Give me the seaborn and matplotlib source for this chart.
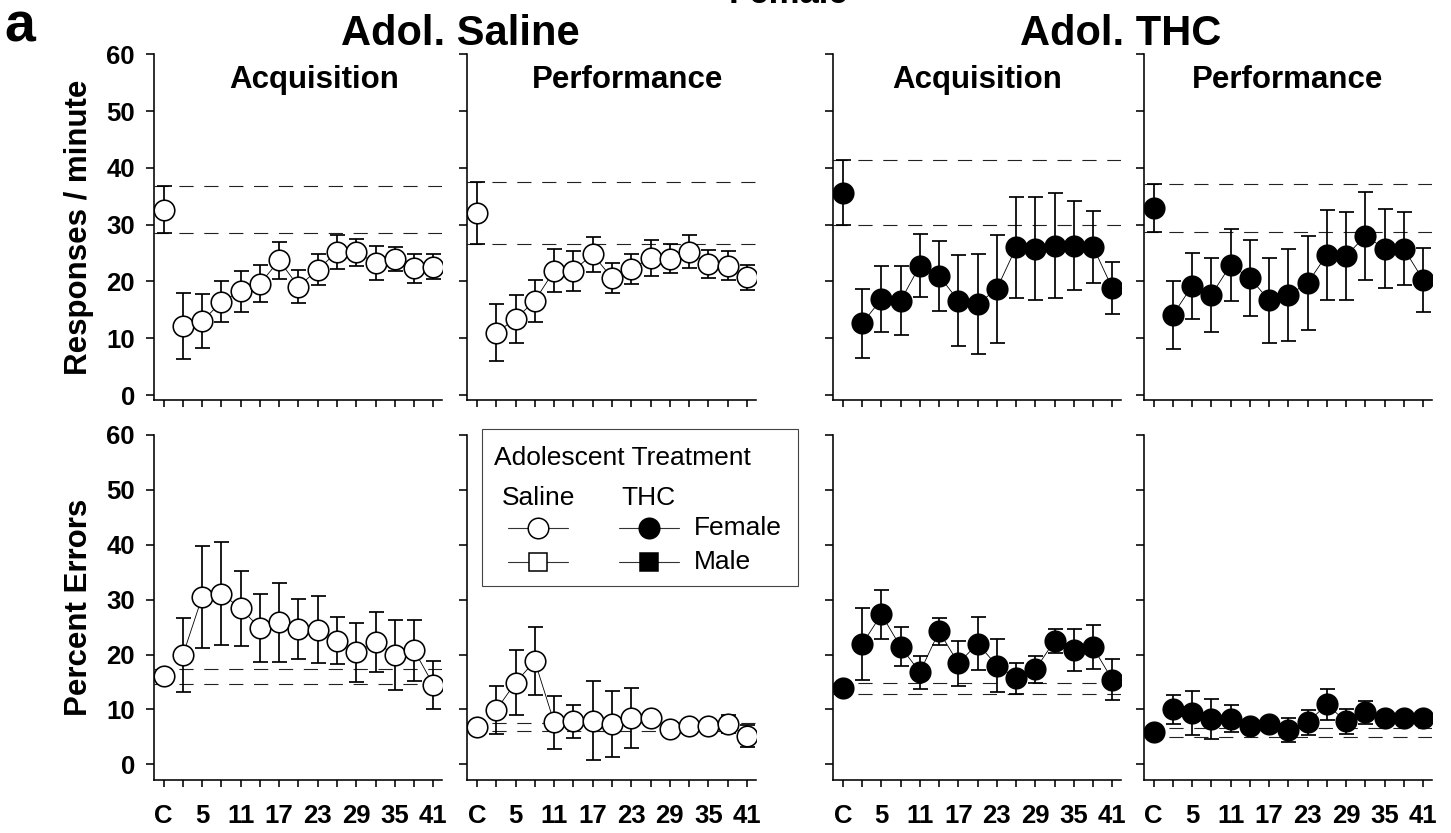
import matplotlib
matplotlib.use("Agg")
import matplotlib.pyplot as plt
import seaborn as sns
import pandas as pd
from matplotlib.lines import Line2D
from matplotlib.patches import Rectangle

# ---------------- data ----------------
x_labels = ["C", "2", "5", "8", "11", "14", "17", "20", "23", "26", "29", "32", "35", "38", "41"]
shown_labels = ["C", "5", "11", "17", "23", "29", "35", "41"]

# Responses / minute (Female)
sal_acq_rate = [32.65, 12.2, 13.0, 16.4, 18.3, 19.6, 23.7, 19.1, 22.1, 25.2, 25.1, 23.3, 23.9, 22.3, 22.6]
sal_acq_rate_err = [4.15, 5.8, 4.7, 3.6, 3.6, 3.3, 3.3, 2.9, 2.8, 3.0, 2.3, 3.0, 2.1, 2.6, 2.2]
sal_perf_rate = [32.05, 11.0, 13.4, 16.6, 21.9, 21.9, 24.8, 20.6, 22.2, 24.1, 24.0, 25.2, 23.1, 22.8, 20.7]
sal_perf_rate_err = [5.45, 5.0, 4.2, 3.7, 3.8, 3.5, 3.1, 2.7, 2.7, 3.2, 2.6, 2.9, 2.5, 2.5, 2.2]
thc_acq_rate = [35.6, 12.6, 16.9, 16.6, 22.8, 21.0, 16.6, 16.0, 18.7, 26.0, 25.8, 26.3, 26.3, 26.1, 18.8]
thc_acq_rate_err = [5.7, 6.0, 5.8, 6.1, 5.6, 6.2, 8.0, 8.8, 9.5, 8.9, 9.0, 9.3, 7.8, 6.3, 4.6]
thc_perf_rate = [32.95, 14.1, 19.2, 17.6, 22.9, 20.6, 16.7, 17.6, 19.7, 24.7, 24.5, 28.0, 25.8, 25.8, 20.3]
thc_perf_rate_err = [4.25, 6.0, 5.8, 6.5, 6.4, 6.75, 7.5, 8.1, 8.3, 7.9, 7.7, 7.8, 6.9, 6.5, 5.6]

# Percent errors (Female)
sal_acq_err_pct = [16.0, 19.9, 30.5, 31.1, 28.4, 24.8, 25.9, 24.6, 24.5, 22.5, 20.4, 22.3, 19.9, 20.8, 14.5]
sal_acq_err_pct_sem = [1.35, 6.7, 9.3, 9.35, 6.8, 6.2, 7.2, 5.5, 6.1, 4.3, 5.4, 5.5, 6.4, 5.55, 4.35]
sal_perf_err_pct = [6.85, 9.9, 14.9, 18.8, 7.65, 7.8, 7.95, 7.35, 8.4, 8.5, 6.4, 7.0, 7.0, 7.35, 5.2]
sal_perf_err_pct_sem = [0.75, 4.3, 5.9, 6.2, 4.8, 3.0, 7.2, 6.0, 5.5, 0.6, 0.5, 0.5, 0.5, 1.6, 2.0]
thc_acq_err_pct = [13.9, 21.9, 27.3, 21.4, 16.8, 24.2, 18.4, 22.0, 18.0, 15.7, 17.3, 22.5, 20.8, 21.3, 15.4]
thc_acq_err_pct_sem = [1.0, 6.6, 4.5, 3.55, 3.0, 2.4, 4.1, 4.8, 4.75, 2.8, 2.45, 2.2, 3.85, 4.0, 3.7]
thc_perf_err_pct = [5.8, 10.0, 9.3, 8.3, 8.3, 7.0, 7.3, 6.25, 7.65, 10.9, 7.8, 9.5, 8.5, 8.4, 8.4]
thc_perf_err_pct_sem = [0.8, 2.7, 4.0, 3.6, 2.5, 0.6, 1.0, 2.1, 2.3, 2.75, 2.3, 2.1, 0.7, 0.7, 0.7]

col_titles = ["Acquisition", "Performance", "Acquisition", "Performance"]
group_titles = ["Adol. Saline", "Adol. THC"]
row_labels = ["Responses / minute", "Percent Errors"]
y_ticks = [0, 10, 20, 30, 40, 50, 60]

# ---------------- style ----------------
sns.set_theme(style="ticks")
plt.rcParams["font.family"] = ["Liberation Sans", "DejaVu Sans"]
plt.rcParams["font.weight"] = "bold"
plt.rcParams["axes.edgecolor"] = "black"
plt.rcParams["axes.labelcolor"] = "black"
plt.rcParams["text.color"] = "black"
plt.rcParams["xtick.color"] = "black"
plt.rcParams["ytick.color"] = "black"

W, H = 1451, 833
fig = plt.figure(figsize=(W / 100, H / 100), dpi=100)


def fx(px):
    return px / W


def fy(py):
    return 1 - py / H


col_px = [(154, 442), (467.3, 755.7), (833.3, 1121), (1144, 1431.7)]
row_px = [(54.3, 400), (435, 780)]
row_ylim = [(-0.88, 60), (-2.86, 60)]

panel_data = [
    [(sal_acq_rate, sal_acq_rate_err, "white"), (sal_perf_rate, sal_perf_rate_err, "white"),
     (thc_acq_rate, thc_acq_rate_err, "black"), (thc_perf_rate, thc_perf_rate_err, "black")],
    [(sal_acq_err_pct, sal_acq_err_pct_sem, "white"), (sal_perf_err_pct, sal_perf_err_pct_sem, "white"),
     (thc_acq_err_pct, thc_acq_err_pct_sem, "black"), (thc_perf_err_pct, thc_perf_err_pct_sem, "black")],
]

title_xfrac = [0.556, 0.555, 0.5, 0.5]
dash = (0, (12.8, 9.6))
MS = 14.8

axes = {}
for r, (ytop, ybot) in enumerate(row_px):
    for c, (xl, xr) in enumerate(col_px):
        ax = fig.add_axes([fx(xl), fy(ybot), (xr - xl) / W, (ybot - ytop) / H])
        axes[(r, c)] = ax
        vals, errs, face = panel_data[r][c]
        df = pd.DataFrame({"pos": list(range(len(x_labels))), "val": vals, "err": errs})
        ctrl = df.iloc[0]
        # control range dashed lines
        for yv in (ctrl["val"] + ctrl["err"], ctrl["val"] - ctrl["err"]):
            ax.axhline(yv, color="#222222", lw=0.8, linestyle=dash, zorder=1)
        # connecting line (sessions only)
        sns.lineplot(data=df.iloc[1:], x="pos", y="val", ax=ax, color="black",
                     linewidth=0.6, estimator=None, sort=False, zorder=2)
        ax.errorbar(df["pos"], df["val"], yerr=df["err"], fmt="none", ecolor="black",
                    elinewidth=1.25, capsize=5.4, capthick=1.25, zorder=3)
        sns.scatterplot(data=df, x="pos", y="val", ax=ax, color=face, edgecolor="black",
                        s=MS ** 2, linewidth=1.15, marker="o", zorder=4, legend=False)
        ax.set_xlim(-0.5, 14.45)
        ax.set_ylim(*row_ylim[r])
        ax.set_xticks(range(len(x_labels)))
        ax.set_xticklabels([lab if lab in shown_labels else "" for lab in x_labels]
                           if r == 1 else [""] * len(x_labels))
        ax.set_yticks(y_ticks)
        ax.set_yticklabels([str(t) for t in y_ticks] if c == 0 else [""] * len(y_ticks))
        ax.set_xlabel("")
        ax.set_ylabel("")
        for s in ("top", "right"):
            ax.spines[s].set_visible(False)
        for s in ("left", "bottom"):
            ax.spines[s].set_linewidth(1.15)
            ax.spines[s].set_color("black")
        ax.tick_params(axis="y", length=5.8, width=1.15, labelsize=18.5, pad=8)
        ax.tick_params(axis="x", length=5.0, width=1.15, labelsize=18.5, pad=12)
        for lab in ax.get_xticklabels() + ax.get_yticklabels():
            lab.set_fontweight("bold")
        ax.patch.set_alpha(0)
        if r == 0:
            ax.text(title_xfrac[c], (400 - 80) / (400 - 54.3), col_titles[c],
                    transform=ax.transAxes, ha="center", va="center",
                    fontsize=22.5, fontweight="bold")

# group and figure titles
fig.text(fx(460), fy(45), group_titles[0], ha="center", va="baseline", fontsize=30, fontweight="bold")
fig.text(fx(1121), fy(45), group_titles[1], ha="center", va="baseline", fontsize=30, fontweight="bold")
fig.text(fx(789), fy(3), "Female", ha="center", va="baseline", fontsize=25, fontweight="bold")
fig.text(fx(4), fy(41), "a", ha="left", va="baseline", fontsize=40, fontweight="bold")

# row labels
fig.text(fx(79), fy(227), row_labels[0], rotation=90, ha="center", va="center",
         fontsize=22.5, fontweight="bold")
fig.text(fx(79), fy(607.5), row_labels[1], rotation=90, ha="center", va="center",
         fontsize=22.5, fontweight="bold")

# ---------------- legend (drawn in figure coordinates) ----------------
tf = fig.transFigure
fig.add_artist(Rectangle((fx(482), fy(586)), (798 - 482) / W, (586 - 429) / H, fill=False,
                         edgecolor="#444444", lw=0.8, transform=tf, zorder=10))
fig.text(fx(494), fy(465), "Adolescent Treatment", ha="left", va="baseline",
         fontsize=19, fontweight="normal", zorder=11)
fig.text(fx(502), fy(505), "Saline", ha="left", va="baseline", fontsize=19, fontweight="normal", zorder=11)
fig.text(fx(621), fy(505), "THC", ha="left", va="baseline", fontsize=19, fontweight="normal", zorder=11)
legend_rows = [("o", 528, "Female", 14.8), ("s", 561.7, "Male", 12.3)]
for mk, ypx, lab, ms in legend_rows:
    for (x0, x1, xm, face) in ((508, 568, 538, "white"), (619, 679, 649, "black")):
        fig.add_artist(Line2D([fx(x0), fx(x1)], [fy(ypx), fy(ypx)], color="#333333", lw=0.8,
                              transform=tf, zorder=11))
        fig.add_artist(Line2D([fx(xm)], [fy(ypx)], marker=mk, markersize=ms, markerfacecolor=face,
                              markeredgecolor="black", markeredgewidth=1.1, linestyle="none",
                              transform=tf, zorder=12))
    fig.text(fx(694), fy(ypx), lab, ha="left", va="center", fontsize=19, fontweight="normal", zorder=11)

fig.savefig("out.png", dpi=100)
